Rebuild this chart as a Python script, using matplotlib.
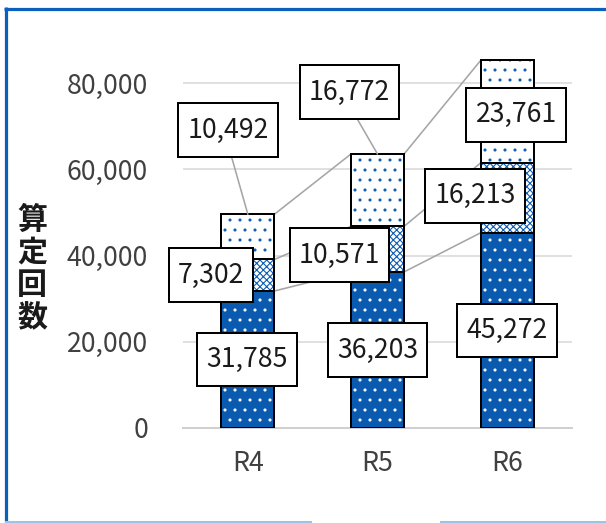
import matplotlib
matplotlib.use("Agg")
import matplotlib.pyplot as plt
from matplotlib.lines import Line2D
from matplotlib.path import Path
import numpy as np

# ---- data -------------------------------------------------------------
categories = ["R4", "R5", "R6"]
series_bottom = [31785, 36203, 45272]
series_middle = [7302, 10571, 16213]
series_top = [10492, 16772, 23761]
y_ticks = [0, 20000, 40000, 60000, 80000]
y_label = "算定回数"

# ---- style ------------------------------------------------------------
DPI = 120
W_PX, H_PX = 606, 523
PX = 72.0 / DPI                     # points per pixel
BLUE = "#0a5ab0"
FONT = ["Noto Sans CJK JP", "DejaVu Sans"]
plt.rcParams["font.family"] = FONT
plt.rcParams["hatch.linewidth"] = 0.65

fig = plt.figure(figsize=(W_PX / DPI, H_PX / DPI), dpi=DPI)

# axes placement in pixels (left, right, y of zero, y of top)
ax_l, ax_r, ax_b, ax_t = 183, 572, 428, 40
ax = fig.add_axes([ax_l / W_PX, 1 - ax_b / H_PX,
                   (ax_r - ax_l) / W_PX, (ax_b - ax_t) / H_PX])

x = np.arange(len(categories))
width = 0.41
segments = [series_bottom, series_middle, series_top]
faces = [BLUE, "white", "white"]
hatch_colors = ["white", BLUE, BLUE]
hatches = ["..", "xxxxxx", ".."]

bottoms = np.zeros(len(categories))
tops = []
for vals, fc, hc, h in zip(segments, faces, hatch_colors, hatches):
    vals = np.asarray(vals, dtype=float)
    ax.bar(x, vals, width, bottom=bottoms, color=fc, edgecolor=hc,
           hatch=h, linewidth=0, zorder=3)
    ax.bar(x, vals, width, bottom=bottoms, fill=False, edgecolor="black",
           linewidth=2 * PX, zorder=4)
    bottoms = bottoms + vals
    tops.append(bottoms.copy())

# series lines joining segment tops between neighbouring columns
for level in tops:
    for i in range(len(categories) - 1):
        ax.plot([x[i] + width / 2, x[i + 1] - width / 2],
                [level[i], level[i + 1]],
                color="#a6a6a6", linewidth=1.6 * PX, zorder=2,
                solid_capstyle="butt")


def label_box(x0, y0, w, h, mutation_size):
    """Rectangle with separate horizontal and vertical padding."""
    px = 0.34 * mutation_size
    py = 0.50 * mutation_size
    xa, xb, ya, yb = x0 - px, x0 + w + px, y0 - py, y0 + h + py
    return Path([(xa, ya), (xb, ya), (xb, yb), (xa, yb), (xa, ya)],
                closed=True)


# ---- data labels ------------------------------------------------------
# (series index, category index, anchor, offset in pixels, leader line)
label_layout = [
    (0, 0, "mid", (-1, 0), False),
    (1, 0, "mid", (-37, 0), False),
    (2, 0, "top", (-20, 84), True),
    (0, 1, "mid", (0, 0), False),
    (1, 1, "mid", (-38, -6), False),
    (2, 1, "top", (-28, 62), True),
    (0, 2, "mid", (0, 0), False),
    (1, 2, "mid", (-32, 2), False),
    (2, 2, "mid", (9, -3), False),
]
base = [np.zeros(3), tops[0], tops[1]]
for s, c, anchor, (dx, dy), leader in label_layout:
    val = segments[s][c]
    y0 = base[s][c]
    ya = y0 + val if anchor == "top" else y0 + val / 2
    kw = {}
    if leader:
        kw["arrowprops"] = dict(arrowstyle="-", color="#a6a6a6",
                                linewidth=1.6 * PX, relpos=(0.5, 0.0),
                                shrinkA=0, shrinkB=0)
    ax.annotate(f"{val:,}", xy=(x[c], ya), xytext=(dx, dy),
                textcoords="offset pixels", ha="center", va="center",
                fontsize=16, color="#1a1a1a", zorder=6,
                bbox=dict(boxstyle=label_box, fc="white",
                          ec="black", linewidth=2 * PX),
                **kw)

# ---- axes -------------------------------------------------------------
ax.set_xlim(-0.5, len(categories) - 0.5)
ax.set_ylim(0, 90000)
ax.set_yticks(y_ticks)
ax.set_yticklabels([f"{v:,}" for v in y_ticks])
ax.set_xticks(x)
ax.set_xticklabels(categories)
ax.tick_params(axis="both", length=0, labelsize=16, labelcolor="#404040")
ax.tick_params(axis="y", pad=35 * PX)
ax.tick_params(axis="x", pad=22 * PX)
ax.grid(axis="y", color="#d9d9d9", linewidth=1.6 * PX, zorder=0)
ax.set_axisbelow(True)
for side in ("left", "right", "top"):
    ax.spines[side].set_visible(False)
ax.spines["bottom"].set_color("#d0d0d0")
ax.spines["bottom"].set_linewidth(2 * PX)
ax.spines["bottom"].set_zorder(1)

fig.text(32 / W_PX, 1 - 269 / H_PX, "\n".join(y_label), ha="center",
         va="center", fontsize=18, fontweight="bold", color="#1a1a1a",
         linespacing=1.12)

# ---- outer frame ------------------------------------------------------
def fig_line(xs, ys, color, lw):
    fig.add_artist(Line2D([v / W_PX for v in xs], [1 - v / H_PX for v in ys],
                          color=color, linewidth=lw * PX,
                          solid_capstyle="butt"))

fig_line([4, W_PX], [8.5, 8.5], "#0b5fbd", 3.2)
fig_line([5.5, 5.5], [7, H_PX], "#0b5fbd", 3.2)
fig_line([5, 312], [522, 522], "#9dc3e6", 2)
fig_line([440, W_PX], [522, 522], "#9dc3e6", 2)

fig.savefig("out.png", dpi=DPI)
